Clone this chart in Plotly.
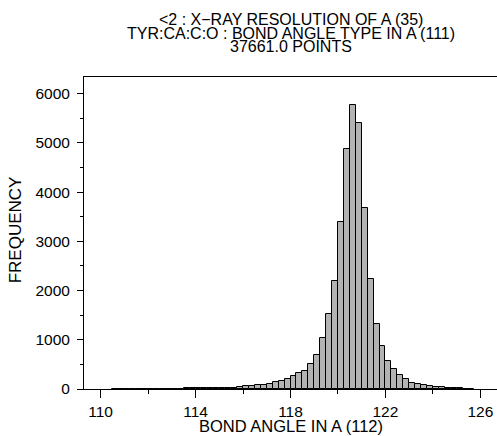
import plotly.graph_objects as go

# Bin centres (deg) of 0.25-wide bins and their counts
angle_centres = [110.625, 110.875, 111.125, 111.375, 111.625, 111.875,
                 112.125, 112.375, 112.625, 112.875, 113.125, 113.375,
                 113.625, 113.875, 114.125, 114.375, 114.625, 114.875,
                 115.125, 115.375, 115.625, 115.875, 116.125, 116.375,
                 116.625, 116.875, 117.125, 117.375, 117.625, 117.875,
                 118.125, 118.375, 118.625, 118.875, 119.125, 119.375,
                 119.625, 119.875, 120.125, 120.375, 120.625, 120.875,
                 121.125, 121.375, 121.625, 121.875, 122.125, 122.375,
                 122.625, 122.875, 123.125, 123.375, 123.625, 123.875,
                 124.125, 124.375, 124.625, 124.875, 125.125, 125.375,
                 125.625]
frequency = [2, 3, 3, 4, 4, 5,
             5, 6, 7, 8, 8, 10,
             11, 12, 14, 15, 17, 19,
             22, 25, 30, 38, 61, 54,
             75, 88, 102, 136, 170, 210,
             264, 332, 359, 508, 692, 1031,
             1519, 2204, 3397, 4868, 5763, 5404,
             3682, 2244, 1329, 868, 570, 400,
             292, 197, 129, 108, 81, 61,
             47, 41, 27, 20, 14, 7,
             4]
bin_width = 0.25

x_ticks = [110, 114, 118, 122, 126]
y_ticks = [0, 1000, 2000, 3000, 4000, 5000, 6000]
title_lines = ["<2 : X\u2212RAY RESOLUTION OF A (35)",
               "TYR:CA:C:O : BOND ANGLE TYPE IN A (111)",
               "37661.0 POINTS"]
x_title = "BOND ANGLE IN A (112)"
y_title = "FREQUENCY"

FONT = "Liberation Sans, Arial, sans-serif"

fig = go.Figure()
fig.add_trace(go.Bar(
    x=angle_centres, y=frequency, width=bin_width,
    marker=dict(color="#b3b3b3", line=dict(color="black", width=1)),
    hoverinfo="x+y",
))

W, H = 497, 436
ml, mr, mt, mb = 84, 0, 77, 47
ph = H - mt - mb

fig.update_layout(
    width=W, height=H,
    margin=dict(l=ml, r=mr, t=mt, b=mb, pad=0),
    paper_bgcolor="white", plot_bgcolor="white",
    showlegend=False, bargap=0,
    font=dict(family=FONT, size=15, color="black"),
)
fig.update_xaxes(
    range=[109.3, 126.7], tickvals=x_ticks, ticktext=[str(v) for v in x_ticks],
    ticks="outside", ticklen=8, tickwidth=1, tickcolor="black",
    minor=dict(dtick=2, tick0=110, ticks="outside", ticklen=4, tickwidth=1, tickcolor="black"),
    showline=True, linecolor="black", linewidth=1, mirror=True,
    showgrid=False, zeroline=False,
    tickfont=dict(family=FONT, size=15.5, color="black"),
)
fig.update_yaxes(
    range=[0, 6340], tickvals=y_ticks, ticktext=[str(v) for v in y_ticks],
    ticks="outside", ticklen=6, tickwidth=1, tickcolor="black",
    minor=dict(dtick=500, tick0=0, ticks="outside", ticklen=3, tickwidth=1, tickcolor="black"),
    showline=True, linecolor="black", linewidth=1,
    showgrid=False, zeroline=False, ticklabelstandoff=4,
    tickfont=dict(family=FONT, size=15.5, color="black"),
)

# title lines (centred over the plot area)
for txt, ypx in zip(title_lines, [19.0, 33.3, 47.0]):
    fig.add_annotation(text=txt, xref="paper", yref="paper", x=0.5,
                       y=(H - mb - ypx) / ph, xanchor="center", yanchor="middle",
                       showarrow=False, font=dict(family=FONT, size=16, color="black"))

fig.add_annotation(text=x_title, xref="paper", yref="paper", x=0.5,
                   y=(H - mb - 426) / ph, xanchor="center", yanchor="middle",
                   showarrow=False, font=dict(family=FONT, size=16.5, color="black"))
fig.add_annotation(text=y_title, xref="paper", yref="paper",
                   x=(15.3 - ml) / (W - ml - mr), y=(H - mb - 230) / ph,
                   xanchor="center", yanchor="middle", textangle=-90,
                   showarrow=False, font=dict(family=FONT, size=17, color="black"))

fig.write_html("out.html", config={"displayModeBar": False},
               post_script="document.body.style.margin='0';document.body.style.padding='0';")
